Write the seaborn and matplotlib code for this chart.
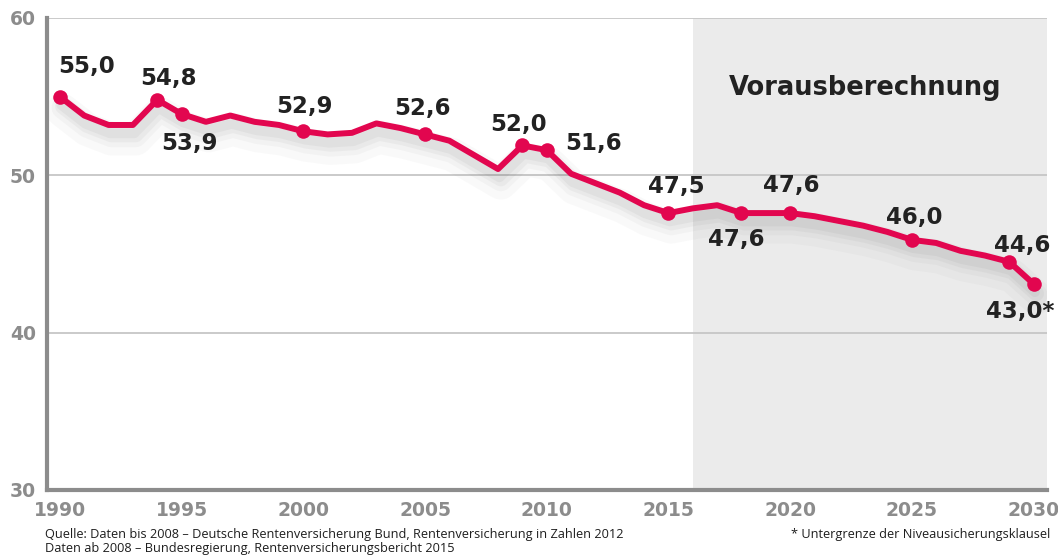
import matplotlib
matplotlib.use("Agg")
import matplotlib.pyplot as plt
import matplotlib.patheffects as pe
import pandas as pd
import seaborn as sns

years = list(range(1990, 2031))
niveau = [55.0, 53.8, 53.2, 53.2, 54.8, 53.9, 53.4, 53.8, 53.4, 53.2,
          52.8, 52.6, 52.7, 53.3, 53.0, 52.6, 52.2, 51.3, 50.4, 51.9,
          51.6, 50.1, 49.5, 48.9, 48.1, 47.6, 47.9, 48.1, 47.6, 47.6,
          47.6, 47.4, 47.1, 46.8, 46.4, 45.9, 45.7, 45.2, 44.9, 44.5,
          43.1]

label_years = [1990, 1994, 1995, 2000, 2005, 2009, 2010, 2015, 2018, 2020, 2025, 2029, 2030]
label_texts = ["55,0", "54,8", "53,9", "52,9", "52,6", "52,0", "51,6",
               "47,5", "47,6", "47,6", "46,0", "44,6", "43,0*"]
# label offsets in points (dx, dy)
label_offsets = [(19, 22), (8, 15), (6, -21), (1, 18), (-2, 19), (-3, 15), (34, 5),
                 (6, 19), (-4, -19), (1, 20), (2, 16), (9, 12), (-10, -20)]

forecast_start = 2016

df = pd.DataFrame({"Jahr": years, "Niveau": niveau})
marked = df[df["Jahr"].isin(label_years)]

sns.set_style("white")
plt.rcParams["font.family"] = ["DejaVu Sans"]

fig = plt.figure(figsize=(10.58, 5.57), dpi=100)
ax = fig.add_axes([0.0444, 0.1203, 0.9452, 0.8474])

red = "#e2064f"
ax.axvspan(forecast_start, 2030.55, color="#ebebeb", zorder=0, lw=0)
for yv in [40, 50, 60]:
    ax.axhline(yv, color="#c6c6c6", lw=1.3, zorder=1)

shadow = [pe.SimpleLineShadow(offset=(2, -10), shadow_color="#555555", alpha=0.03, linewidth=24),
          pe.SimpleLineShadow(offset=(2, -8), shadow_color="#555555", alpha=0.04, linewidth=16),
          pe.SimpleLineShadow(offset=(2, -7), shadow_color="#555555", alpha=0.05, linewidth=11),
          pe.SimpleLineShadow(offset=(1, -6), shadow_color="#555555", alpha=0.06, linewidth=7),
          pe.Normal()]
sns.lineplot(data=df, x="Jahr", y="Niveau", color=red, lw=4.3, ax=ax, zorder=3,
             path_effects=shadow, solid_joinstyle="round", solid_capstyle="round")
sns.scatterplot(data=marked, x="Jahr", y="Niveau", color=red, s=110, ax=ax,
                zorder=4, edgecolor=red, linewidth=0)

for yr, txt, off in zip(label_years, label_texts, label_offsets):
    val = df.loc[df["Jahr"] == yr, "Niveau"].iloc[0]
    ax.annotate(txt, (yr, val), xytext=off, textcoords="offset points",
                ha="center", va="center", fontsize=16.5, fontweight="bold",
                color="#222222", zorder=5)

ax.text(2023.06, 55.55, "Vorausberechnung", ha="center", va="center",
        fontsize=18.5, fontweight="bold", color="#222222", zorder=5)

ax.set_xlim(1989.47, 2030.55)
ax.set_ylim(30, 60)
ax.set_xticks(range(1990, 2031, 5))
ax.set_yticks([30, 40, 50, 60])
ax.set_xlabel("")
ax.set_ylabel("")

for side in ["top", "right"]:
    ax.spines[side].set_visible(False)
for side in ["left", "bottom"]:
    ax.spines[side].set_color("#8c8c8c")
    ax.spines[side].set_linewidth(3)
    ax.spines[side].set_zorder(6)

ax.tick_params(axis="x", direction="in", length=7, width=1.3, color="#8c8c8c",
               pad=8, labelsize=13.5, labelcolor="#8c8c8c")
ax.tick_params(axis="y", length=0, pad=8, labelsize=13.5, labelcolor="#8c8c8c")
for lab in ax.get_xticklabels() + ax.get_yticklabels():
    lab.set_fontweight("bold")

foot = dict(fontsize=9.2, color="#1e1e1e", va="center", family=["Open Sans", "DejaVu Sans"])
fig.text(0.0425, 0.0395, "Quelle: Daten bis 2008 \u2013 Deutsche Rentenversicherung Bund, "
         "Rentenversicherung in Zahlen 2012", ha="left", **foot)
fig.text(0.0425, 0.0144, "Daten ab 2008 \u2013 Bundesregierung, "
         "Rentenversicherungsbericht 2015", ha="left", **foot)
fig.text(0.9925, 0.0395, "* Untergrenze der Niveausicherungsklausel", ha="right", **foot)

fig.savefig("out.png", dpi=100)
